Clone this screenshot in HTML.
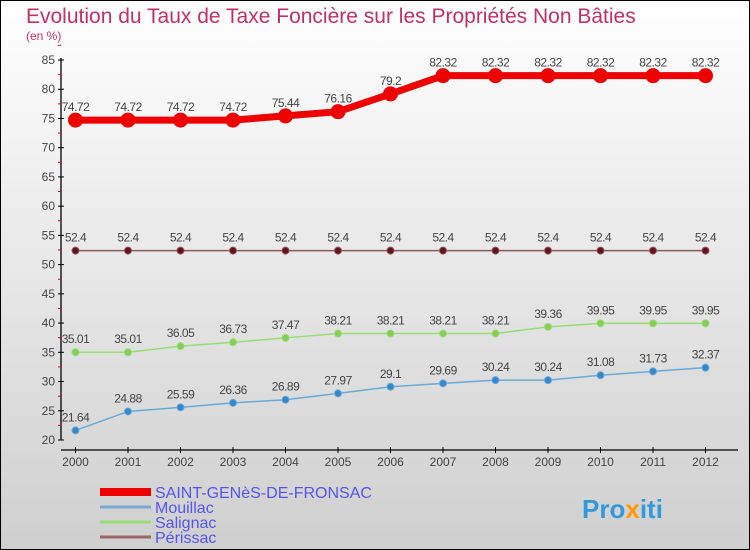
<!DOCTYPE html>
<html><head><meta charset="utf-8"><style>
body{margin:0}
svg{display:block;font-family:"Liberation Sans",sans-serif}
</style></head><body>
<svg id="c" width="750" height="550">
<defs><linearGradient id="bg" x1="0" y1="0" x2="0" y2="1"><stop offset="0" stop-color="#ffffff"/><stop offset="1" stop-color="#cfcfcf"/></linearGradient></defs>
<rect x="0.5" y="0.5" width="749" height="549" fill="url(#bg)" stroke="#000"/>
<text x="26" y="23" font-size="21" fill="#c0306a">Evolution du Taux de Taxe Foncière sur les Propriétés Non Bâties</text>
<text x="26" y="40" font-size="12" fill="#c0306a">(en %)</text>
<g id="axes"></g><g id="series"></g><g id="legend"></g>
<text x="582" y="518" font-size="26" font-weight="bold" fill="#3399dd">Pro<tspan fill="#ff9900">x</tspan>iti</text>
</svg>
<script>
const years=[2000,2001,2002,2003,2004,2005,2006,2007,2008,2009,2010,2011,2012];
const yTicks=[20,25,30,35,40,45,50,55,60,65,70,75,80,85];
const seriesNames=["SAINT-GENèS-DE-FRONSAC","Mouillac","Salignac","Périssac"];
const saint=[74.72,74.72,74.72,74.72,75.44,76.16,79.2,82.32,82.32,82.32,82.32,82.32,82.32];
const mouillac=[21.64,24.88,25.59,26.36,26.89,27.97,29.1,29.69,30.24,30.24,31.08,31.73,32.37];
const salignac=[35.01,35.01,36.05,36.73,37.47,38.21,38.21,38.21,38.21,39.36,39.95,39.95,39.95];
const perissac=[52.4,52.4,52.4,52.4,52.4,52.4,52.4,52.4,52.4,52.4,52.4,52.4,52.4];
const NS="http://www.w3.org/2000/svg";
const X=i=>75.5+i*52.5;
const Y=v=>440-(v-20)*(380/65);
function mk(t,a,p){const e=document.createElementNS(NS,t);for(const k in a)e.setAttribute(k,a[k]);p.appendChild(e);return e;}
const ax=document.getElementById('axes');
let yl=mk('line',{x1:61,y1:Y(85)-2,x2:61,y2:Y(20),stroke:'#000','stroke-width':1.3},ax);


let xl=mk('line',{x1:61,y1:450,x2:738,y2:450,stroke:'#000','stroke-width':1.3},ax);


yTicks.forEach(v=>{
  mk('line',{x1:58,y1:Y(v),x2:64,y2:Y(v),stroke:'#000'},ax);
  mk('line',{x1:58,y1:Y(v+2.5),x2:61,y2:Y(v+2.5),stroke:'#e00'},ax);
  const t=mk('text',{x:55,y:Y(v)+4,'font-size':12,fill:'#444','text-anchor':'end'},ax);
  t.textContent=v;
  
  
});
years.forEach((yr,i)=>{
  mk('line',{x1:X(i),y1:447,x2:X(i),y2:453,stroke:'#000'},ax);
  const t=mk('text',{x:X(i),y:466,'font-size':12,fill:'#444','text-anchor':'middle'},ax);
  t.textContent=yr;
  
  
});
const sg=document.getElementById('series');
function draw(vals,name,color,dot,w,r){
  const g=mk('g',{},sg);
  
  
  const pl=mk('polyline',{points:vals.map((v,i)=>X(i)+','+Y(v)).join(' '),fill:'none',stroke:color,'stroke-width':w,'stroke-linejoin':'round'},g);
  
  
  vals.forEach((v,i)=>{
    const c=mk('circle',{cx:X(i),cy:Y(v),r:r,fill:dot,stroke:color,'stroke-width':1},g);
    
    
    const t=mk('text',{x:X(i),y:Y(v)-9,'font-size':12,fill:'#444','text-anchor':'middle','letter-spacing':'-0.5'},g);
    t.textContent=String(v);
    
    
  });
}
draw(perissac,'perissac','#8a5a5a','#661122',1.5,3.5);
draw(salignac,'salignac','#99dd77','#88cc55',1.5,3.5);
draw(mouillac,'mouillac','#6aaad8','#3388cc',1.5,3.5);
draw(saint,'saint-genes','#ee0000','#ee0000',7,7);
const lg=document.getElementById('legend');
const lcol=['#ee0000','#77aad0','#99dd77','#996666'];
const lw=[8,3,3,3];
seriesNames.forEach((n,i)=>{
  const y=492+i*15;
  const l=mk('line',{x1:100,y1:y,x2:151,y2:y,stroke:lcol[i],'stroke-width':lw[i]},lg);
  
  
  const t=mk('text',{x:155,y:y+6,'font-size':16,fill:'#5555ee'},lg);
  t.textContent=n;
  
  
});
</script>
</body></html>
